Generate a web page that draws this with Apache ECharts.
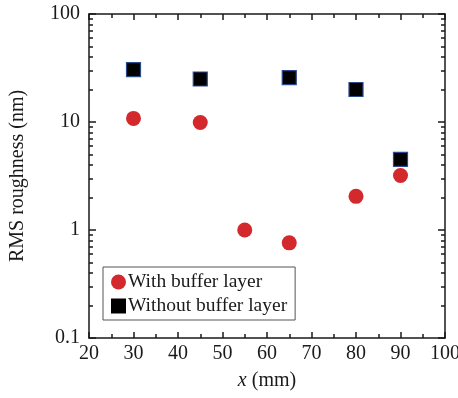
<!DOCTYPE html>
<html>
<head>
<meta charset="utf-8">
<script src="https://cdn.jsdelivr.net/npm/echarts@6/dist/echarts.min.js"></script>
<style>
  html, body { margin: 0; padding: 0; background: #fff; }
  #chart { width: 458px; height: 398px; }
</style>
</head>
<body>
<div id="chart"></div>
<script>
// data
const withBufferX = [30, 45, 55, 65, 80, 90];
const withBufferY = [10.8, 9.9, 1.0, 0.76, 2.05, 3.2];
const withoutBufferX = [30, 45, 65, 80, 90];
const withoutBufferY = [30.5, 25.0, 25.8, 20.0, 4.5];
const yMajorTicks = [0.1, 1, 10, 100];
const yMinorTicks = [0.2, 0.3, 0.4, 0.5, 0.6, 0.7, 0.8, 0.9,
  2, 3, 4, 5, 6, 7, 8, 9, 20, 30, 40, 50, 60, 70, 80, 90];

const font = '"Liberation Serif", "Times New Roman", serif';
const ink = '#1a1a1a';

function pairs(xs, ys) {
  return xs.map((x, i) => [x, ys[i]]);
}

let myChart = echarts.init(document.getElementById('chart'));

let xBase = {
  type: 'value',
  min: 20,
  max: 100,
  interval: 10,
  axisLine: { show: true, lineStyle: { color: ink, width: 1.5 } },
  axisTick: { show: true, inside: true, length: 6, lineStyle: { color: ink, width: 1.5 } },
  minorTick: { show: true, splitNumber: 2, length: 4, lineStyle: { color: ink, width: 1.5 } },
  splitLine: { show: false }
};

let yBase = {
  type: 'log',
  logBase: 10,
  min: 0.1,
  max: 100,
  axisLine: { show: true, lineStyle: { color: ink, width: 1.5 } },
  splitLine: { show: false }
};

let option = {
  animation: false,
  grid: { left: 89, right: 13, top: 14, bottom: 60, outerBoundsMode: 'none' },
  xAxis: [
    Object.assign({}, xBase, {
      position: 'bottom',
      name: '{i|x} (mm)',
      nameLocation: 'middle',
      nameGap: 33,
      nameTextStyle: {
        fontFamily: font, fontSize: 20, color: ink,
        rich: { i: { fontFamily: font, fontSize: 20, fontStyle: 'italic', color: ink } }
      },
      axisLabel: { fontFamily: font, fontSize: 20, color: ink, margin: 6 }
    }),
    Object.assign({}, xBase, {
      position: 'top',
      axisLabel: { show: false }
    })
  ],
  yAxis: [
    Object.assign({}, yBase, {
      position: 'left',
      name: 'RMS roughness (nm)',
      nameLocation: 'middle',
      nameGap: 61,
      nameTextStyle: { fontFamily: font, fontSize: 20, color: ink },
      axisTick: { show: true, inside: true, length: 7, customValues: yMajorTicks, lineStyle: { color: ink, width: 1.5 } },
      axisLabel: { fontFamily: font, fontSize: 20, color: ink, margin: 9, customValues: yMajorTicks }
    }),
    Object.assign({}, yBase, {
      position: 'left',
      axisLine: { show: false },
      axisTick: { show: true, inside: true, length: 4, customValues: yMinorTicks, lineStyle: { color: ink, width: 1.5 } },
      axisLabel: { show: false }
    }),
    Object.assign({}, yBase, {
      position: 'right',
      axisTick: { show: true, inside: true, length: 7, customValues: yMajorTicks, lineStyle: { color: ink, width: 1.5 } },
      axisLabel: { show: false }
    }),
    Object.assign({}, yBase, {
      position: 'right',
      axisLine: { show: false },
      axisTick: { show: true, inside: true, length: 4, customValues: yMinorTicks, lineStyle: { color: ink, width: 1.5 } },
      axisLabel: { show: false }
    })
  ],
  legend: {
    orient: 'vertical',
    left: 103,
    top: 267,
    padding: [5, 8, 4, 8],
    itemGap: 4,
    itemWidth: 15,
    itemHeight: 15,
    borderColor: '#555',
    borderWidth: 1,
    textStyle: { fontFamily: font, fontSize: 19.5, color: ink, padding: [0, 0, 0, -3] },
    data: [
      { name: 'With buffer layer', icon: 'circle' },
      { name: 'Without buffer layer', icon: 'rect', itemStyle: { borderWidth: 0 } }
    ]
  },
  series: [
    {
      name: 'With buffer layer',
      type: 'scatter',
      symbol: 'circle',
      symbolSize: 15,
      itemStyle: { color: '#d3282c', opacity: 1 },
      data: pairs(withBufferX, withBufferY)
    },
    {
      name: 'Without buffer layer',
      type: 'scatter',
      symbol: 'rect',
      symbolSize: 14,
      itemStyle: { color: '#000', borderColor: '#2a4a8c', borderWidth: 1.2, opacity: 1 },
      data: pairs(withoutBufferX, withoutBufferY)
    }
  ]
};
myChart.setOption(option, true);
</script>
</body>
</html>
